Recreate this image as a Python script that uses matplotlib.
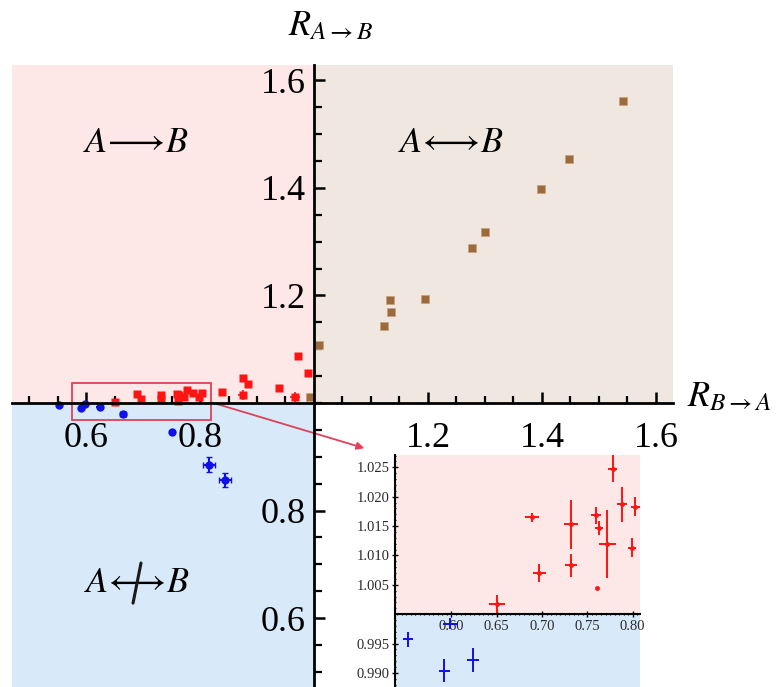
import numpy as np
import matplotlib
matplotlib.use('Agg')
import matplotlib.pyplot as plt
from matplotlib.patches import Rectangle, FancyArrowPatch
from matplotlib.ticker import FixedLocator, FixedFormatter, MultipleLocator

plt.rcParams['mathtext.fontset'] = 'stix'
plt.rcParams['font.family'] = ['Liberation Serif', 'DejaVu Serif']

# ---------------- data ----------------
# points near R=1 (shown in the zoomed inset and in the main panel)
red_x = [0.650, 0.689, 0.697, 0.732, 0.732, 0.759, 0.763, 0.761, 0.772, 0.778, 0.788, 0.799, 0.803]
red_y = [1.0017, 1.0165, 1.0070, 1.0153, 1.0083, 1.0168, 1.0146, 1.0045, 1.0119, 1.0248, 1.0187, 1.0113, 1.0183]
red_xerr = [0.009, 0.008, 0.007, 0.008, 0.007, 0.0055, 0.0045, 0.0, 0.009, 0.005, 0.0055, 0.0045, 0.0045]
red_yerr = [0.0015, 0.0008, 0.0015, 0.0042, 0.0019, 0.0015, 0.0012, 0.0, 0.0058, 0.0023, 0.003, 0.0016, 0.0016]

blue_x = [0.5525, 0.598, 0.592, 0.624]
blue_y = [0.9957, 0.9984, 0.9904, 0.9922]
blue_xerr = [0.0055, 0.0077, 0.006, 0.0066]
blue_yerr = [0.0013, 0.0010, 0.0019, 0.0020]

# points visible only in the main panel
red_far_x = [0.972, 0.989, 0.875, 0.884, 0.939, 0.875, 0.839, 0.967]
red_far_y = [1.087, 1.056, 1.046, 1.035, 1.028, 1.015, 1.020, 1.011]
red_far_xerr = [0, 0, 0, 0, 0, 0.008, 0, 0.009]
red_far_yerr = [0, 0, 0, 0, 0, 0.009, 0, 0.009]

blue_far_x = [0.665, 0.750, 0.816, 0.844]
blue_far_y = [0.980, 0.947, 0.885, 0.857]
blue_far_xerr = [0.006, 0.0, 0.011, 0.011]
blue_far_yerr = [0.0, 0.0, 0.014, 0.013]

tan_x = [1.542, 1.448, 1.399, 1.300, 1.278, 1.195, 1.133, 1.135, 1.122, 1.009, 0.993]
tan_y = [1.562, 1.454, 1.397, 1.317, 1.288, 1.194, 1.191, 1.169, 1.143, 1.108, 1.011]

x_major = [0.6, 0.8, 1.2, 1.4, 1.6]
x_labels = ['0.6', '0.8', '1.2', '1.4', '1.6']
y_major = [0.6, 0.8, 1.2, 1.4, 1.6]
y_labels = ['0.6', '0.8', '1.2', '1.4', '1.6']

inset_xticks = [0.60, 0.65, 0.70, 0.75, 0.80]
inset_xlabels = ['0.60', '0.65', '0.70', '0.75', '0.80']
inset_yticks = [0.990, 0.995, 1.005, 1.010, 1.015, 1.020, 1.025]
inset_ylabels = ['0.990', '0.995', '1.005', '1.010', '1.015', '1.020', '1.025']

# ---------------- style ----------------
PINK = '#fde7e7'
TAN = '#efe7e0'
BLUE = '#d8e9fa'
RED = '#ff1414'
BROWN = '#9b6b3d'
DBLUE = '#1010e8'
BOXRED = '#e0405a'

W, H = 782, 687
fig = plt.figure(figsize=(W / 100, H / 100), dpi=100)
ax = fig.add_axes([0, 0, 1, 1])
ax.set_xlim(0.4491, 1.8211)
ax.set_ylim(0.4721, 1.7491)

xl, xr = 0.470, 1.630
yt = 1.628
yb = 0.4721
ax.add_patch(Rectangle((xl, 1.0), 1.0 - xl, yt - 1.0, color=PINK, zorder=0, lw=0))
ax.add_patch(Rectangle((1.0, 1.0), xr - 1.0, yt - 1.0, color=TAN, zorder=0, lw=0))
ax.add_patch(Rectangle((xl, yb), 1.0 - xl, 1.0 - yb, color=BLUE, zorder=0, lw=0))

for s in ['top', 'right']:
    ax.spines[s].set_visible(False)
ax.spines['left'].set_position(('data', 1.0))
ax.spines['bottom'].set_position(('data', 1.0))
ax.spines['left'].set_bounds(yb, yt)
ax.spines['bottom'].set_bounds(xl, xr)
for s in ['left', 'bottom']:
    ax.spines[s].set_linewidth(2.0)
    ax.spines[s].set_zorder(5)

ax.xaxis.set_major_locator(FixedLocator(x_major))
ax.xaxis.set_major_formatter(FixedFormatter(x_labels))
ax.xaxis.set_minor_locator(FixedLocator(np.arange(0.5, 1.63, 0.05)))
ax.yaxis.set_major_locator(FixedLocator(y_major))
ax.yaxis.set_major_formatter(FixedFormatter(y_labels))
ax.yaxis.set_minor_locator(FixedLocator(np.arange(0.5, 1.62, 0.05)))
ax.tick_params(axis='x', which='major', direction='in', length=8, width=1.8, labelsize=26, pad=14)
ax.tick_params(axis='x', which='minor', direction='in', length=5, width=1.6)
ax.tick_params(axis='y', which='major', direction='in', length=8, width=1.8, labelsize=26, pad=6)
ax.tick_params(axis='y', which='minor', direction='in', length=6, width=1.6)

# markers in main panel
ax.plot(red_x, red_y, 's', color=RED, ms=5.6, zorder=3, mec='none')
ax.errorbar(red_far_x, red_far_y, xerr=red_far_xerr, yerr=red_far_yerr, fmt='s', color=RED,
            ms=5.6, mec='none', elinewidth=1.2, capsize=0, zorder=3)
ax.errorbar(blue_x, blue_y, xerr=blue_xerr, fmt='o', color=DBLUE, ms=6, mec='none',
            elinewidth=1.5, capsize=0, zorder=3)
ax.errorbar(blue_far_x, blue_far_y, xerr=blue_far_xerr, yerr=blue_far_yerr, fmt='o', color=DBLUE,
            ms=6, mec='none', elinewidth=1.5, capsize=2, zorder=3)
ax.plot(tan_x, tan_y, 's', color=BROWN, ms=6.2, mec='#c9a27a', mew=0.6, zorder=3)

# zoom rectangle and arrow
ax.add_patch(Rectangle((0.5754, 0.9684), 0.8193 - 0.5754, 1.0366 - 0.9684, fill=False,
                       ec=BOXRED, lw=1.3, zorder=4))
ax.add_patch(FancyArrowPatch((0.8175, 1.002), (1.093, 0.9145), arrowstyle='-|>',
                             mutation_scale=11, color=BOXRED, lw=1.3, zorder=4))

# axis labels
ax.text(1.03, 1.70, r'$R_{A\rightarrow B}$', fontsize=26, ha='center', va='center')
ax.text(1.655, 1.01, r'$R_{B\rightarrow A}$', fontsize=26, ha='left', va='center')

# region labels
ax.text(0.688, 1.483, r'$A\!\longrightarrow\! B$', fontsize=26, ha='center', va='center')
ax.text(1.240, 1.483, r'$A\!\longleftrightarrow\! B$', fontsize=26, ha='center', va='center')
ax.text(0.689, 0.665, r'$A\!\longleftrightarrow\! B$', fontsize=26, ha='center', va='center')
# slash crossing the double arrow ("no causal link")
ax.annotate('', xy=(0.6825, 0.628), xytext=(0.6965, 0.7026),
            arrowprops=dict(arrowstyle='-', lw=2.2, color='#1a1a1a', shrinkA=0, shrinkB=0))

# ---------------- inset ----------------
ix0, ix1 = 0.5377, 0.808
iy0, iy1 = 0.9876, 1.0271
ins = fig.add_axes([395 / W, 0, 245 / W, 232 / H])
ins.set_xlim(ix0, ix1)
ins.set_ylim(iy0, iy1)
ins.patch.set_alpha(0)
ins.add_patch(Rectangle((ix0, 1.0), ix1 - ix0, iy1 - 1.0, color=PINK, lw=0, zorder=0))
ins.add_patch(Rectangle((ix0, iy0), ix1 - ix0, 1.0 - iy0, color=BLUE, lw=0, zorder=0))
for s in ['top', 'right']:
    ins.spines[s].set_visible(False)
ins.spines['bottom'].set_position(('data', 1.0))
ins.spines['left'].set_linewidth(1.5)
ins.spines['bottom'].set_linewidth(1.5)
ins.xaxis.set_major_locator(FixedLocator(inset_xticks))
ins.xaxis.set_major_formatter(FixedFormatter(inset_xlabels))
ins.xaxis.set_minor_locator(MultipleLocator(0.005))
ins.yaxis.set_major_locator(FixedLocator(inset_yticks))
ins.yaxis.set_major_formatter(FixedFormatter(inset_ylabels))
ins.yaxis.set_minor_locator(MultipleLocator(0.001))
ins.tick_params(which='major', direction='inout', length=4, width=1.0, labelsize=10.5,
                labelcolor='#2a2a2a', pad=2)
ins.tick_params(which='minor', direction='inout', length=2, width=0.8)
ins.errorbar(red_x, red_y, xerr=red_xerr, yerr=red_yerr, fmt='o', color=RED, ms=3.5,
             mec='none', elinewidth=1.4, capsize=0, zorder=3)
ins.errorbar(blue_x, blue_y, xerr=blue_xerr, yerr=blue_yerr, fmt='none', ecolor=DBLUE,
             elinewidth=1.4, capsize=0, zorder=3)

fig.savefig('out.png', dpi=100)
